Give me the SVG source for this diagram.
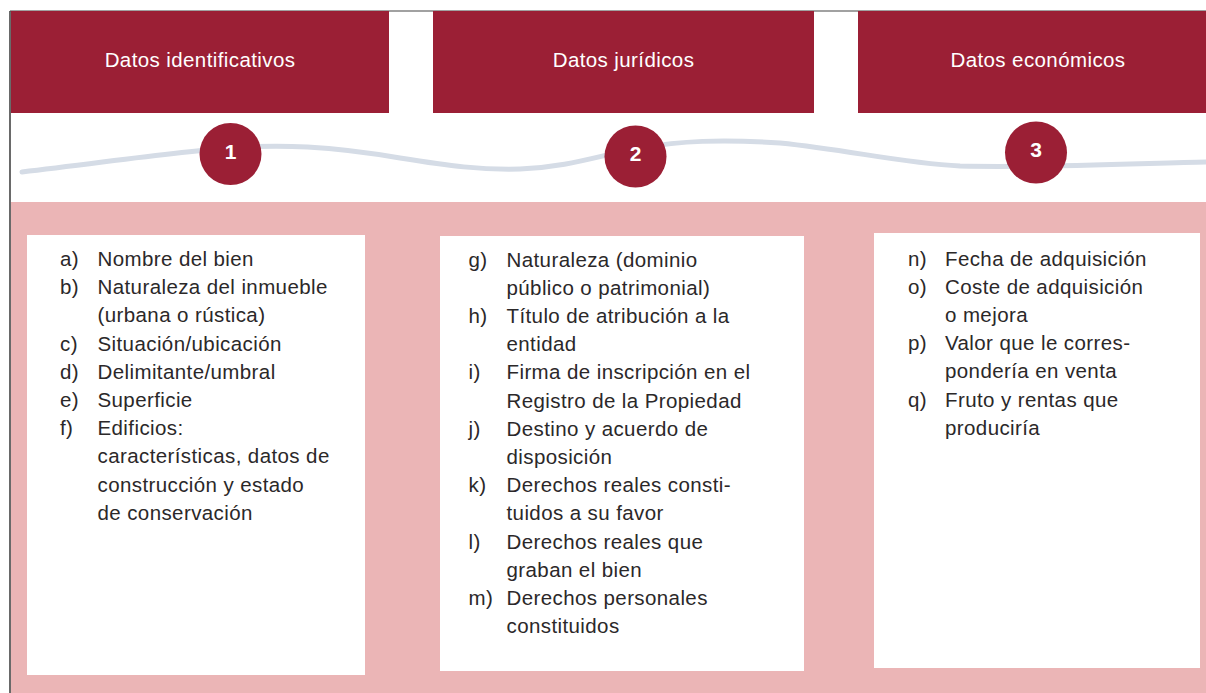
<svg xmlns="http://www.w3.org/2000/svg" width="1206" height="693" viewBox="0 0 1206 693">
<style>
.hdr{fill:#9B1F35}
.htxt{font-family:"Liberation Sans",Arial,sans-serif;font-size:20.5px;letter-spacing:0.4px;fill:#ffffff;text-anchor:middle}
.num{font-family:"Liberation Sans",Arial,sans-serif;font-size:21px;font-weight:bold;fill:#ffffff;text-anchor:middle}
.box{fill:#ffffff}
.lst{font-family:"Liberation Sans",Arial,sans-serif;font-size:20.5px;letter-spacing:0.4px;fill:#2b2829}
</style>
<rect x="0" y="0" width="1206" height="693" fill="#ffffff"/>
<rect x="11" y="202" width="1195" height="491" fill="#EBB5B6"/>
<line x1="10" y1="11" x2="1206" y2="11" stroke="#444" stroke-width="1.2"/>
<line x1="10" y1="11" x2="10" y2="693" stroke="#444" stroke-width="1.6"/>

<g id="connectors">
<path d="M22,172 C100,163 180,151 230,148 C280,144 330,146 400,158 C450,166 480,170 520,169 C570,167 600,155 640,148 C680,141 720,139 780,143 C850,150 900,163 960,166 C1050,168 1150,163 1206,162" fill="none" stroke="#D5DCE6" stroke-width="5" stroke-linecap="round"/>
</g>

<g id="header1">
<rect class="hdr" x="11" y="11" width="378" height="102"/>
<text class="htxt" x="200" y="67">Datos identificativos</text>
</g>
<g id="header2">
<rect class="hdr" x="433" y="11" width="381" height="102"/>
<text class="htxt" x="623.5" y="67">Datos jurídicos</text>
</g>
<g id="header3">
<rect class="hdr" x="858" y="11" width="348" height="102"/>
<text class="htxt" x="1038" y="67">Datos económicos</text>
</g>

<g id="circle1">
<circle class="hdr" cx="230.5" cy="154" r="31"/>
<text class="num" x="230.5" y="158.5">1</text>
</g>
<g id="circle2">
<circle class="hdr" cx="635.5" cy="156.5" r="31"/>
<text class="num" x="635.5" y="161">2</text>
</g>
<g id="circle3">
<circle class="hdr" cx="1036" cy="152.5" r="31"/>
<text class="num" x="1036" y="157">3</text>
</g>

<g id="box1">
<rect class="box" x="27" y="235" width="338" height="440"/>
<g class="lst">
<text x="60" y="266">a)</text><text x="97.5" y="266">Nombre del bien</text>
<text x="60" y="294.2">b)</text><text x="97.5" y="294.2">Naturaleza del inmueble</text>
<text x="97.5" y="322.4">(urbana o rústica)</text>
<text x="60" y="350.6">c)</text><text x="97.5" y="350.6">Situación/ubicación</text>
<text x="60" y="378.8">d)</text><text x="97.5" y="378.8">Delimitante/umbral</text>
<text x="60" y="407">e)</text><text x="97.5" y="407">Superficie</text>
<text x="60" y="435.2">f)</text><text x="97.5" y="435.2">Edificios:</text>
<text x="97.5" y="463.4">características, datos de</text>
<text x="97.5" y="491.6">construcción y estado</text>
<text x="97.5" y="519.8">de conservación</text>
</g>
</g>

<g id="box2">
<rect class="box" x="440" y="236" width="364" height="435"/>
<g class="lst">
<text x="468.5" y="266.5">g)</text><text x="506.5" y="266.5">Naturaleza (dominio</text>
<text x="506.5" y="294.7">público o patrimonial)</text>
<text x="468.5" y="322.9">h)</text><text x="506.5" y="322.9">Título de atribución a la</text>
<text x="506.5" y="351.1">entidad</text>
<text x="468.5" y="379.3">i)</text><text x="506.5" y="379.3">Firma de inscripción en el</text>
<text x="506.5" y="407.5">Registro de la Propiedad</text>
<text x="468.5" y="435.7">j)</text><text x="506.5" y="435.7">Destino y acuerdo de</text>
<text x="506.5" y="463.9">disposición</text>
<text x="468.5" y="492.1">k)</text><text x="506.5" y="492.1">Derechos reales consti-</text>
<text x="506.5" y="520.3">tuidos a su favor</text>
<text x="468.5" y="548.5">l)</text><text x="506.5" y="548.5">Derechos reales que</text>
<text x="506.5" y="576.7">graban el bien</text>
<text x="468.5" y="604.9">m)</text><text x="506.5" y="604.9">Derechos personales</text>
<text x="506.5" y="633.1">constituidos</text>
</g>
</g>

<g id="box3">
<rect class="box" x="874" y="233" width="326" height="435"/>
<g class="lst">
<text x="908" y="265.5">n)</text><text x="945" y="265.5">Fecha de adquisición</text>
<text x="908" y="293.7">o)</text><text x="945" y="293.7">Coste de adquisición</text>
<text x="945" y="321.9">o mejora</text>
<text x="908" y="350.1">p)</text><text x="945" y="350.1">Valor que le corres-</text>
<text x="945" y="378.3">pondería en venta</text>
<text x="908" y="406.5">q)</text><text x="945" y="406.5">Fruto y rentas que</text>
<text x="945" y="434.7">produciría</text>
</g>
</g>
</svg>
